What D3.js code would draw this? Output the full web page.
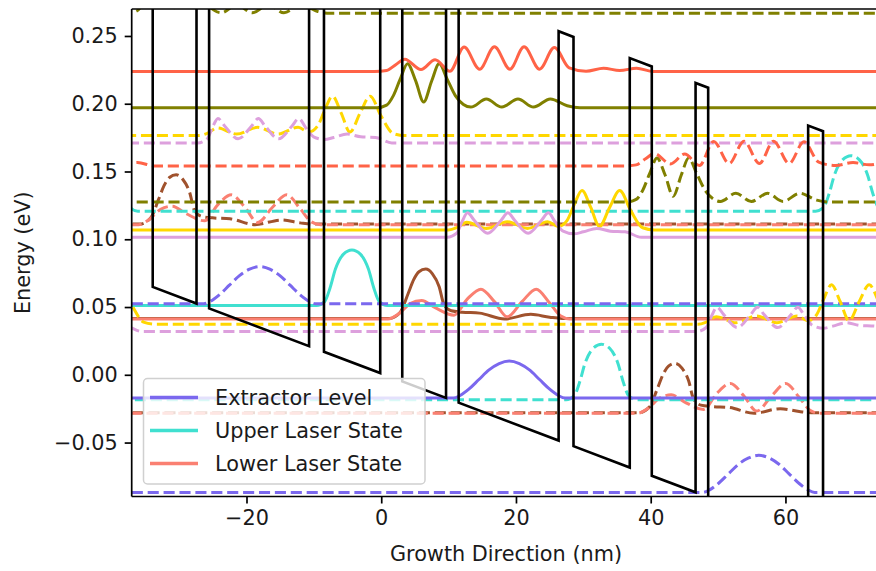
<!DOCTYPE html>
<html>
<head>
<meta charset="utf-8">
<script src="https://cdn.jsdelivr.net/npm/d3@7"></script>
<style>
  body { margin: 0; background: #fff; }
  text { font-family: "DejaVu Sans", sans-serif; fill: #1a1a1a; }
</style>
</head>
<body>
<svg width="876" height="571"></svg>
<script>
var width = 876;
var height = 571;

// one cascade period (nm) and the energy drop across it under bias (eV)
var period = 37.04;
var periodDrop = 0.0696;

var xTicks = [-20, 0, 20, 40, 60];
var yTicks = [-0.05, 0.00, 0.05, 0.10, 0.15, 0.20, 0.25];

// conduction band edge, [nm, eV] at every interface
var bandProfile = [
  [-37.04, 0.3726], [-33.92, 0.3668], [-33.92, 0.0648], [-27.42, 0.0526], [-27.42, 0.3546],
  [-25.55, 0.3510], [-25.55, 0.0490], [-10.71, 0.0211], [-10.71, 0.3231], [-8.50, 0.3190],
  [-8.50, 0.0170], [-0.15, 0.0013], [-0.15, 0.3033], [3.12, 0.2971], [3.12, -0.0049],
  [9.62, -0.0171], [9.62, 0.2849], [11.49, 0.2814], [11.49, -0.0206], [26.33, -0.0485],
  [26.33, 0.2535], [28.54, 0.2493], [28.54, -0.0527], [36.89, -0.0684], [36.89, 0.2337],
  [40.16, 0.2275], [40.16, -0.0745], [46.66, -0.0867], [46.66, 0.2153], [48.53, 0.2118],
  [48.53, -0.0902], [63.37, -0.1181], [63.37, 0.1839], [65.58, 0.1797], [65.58, -0.1223],
  [73.93, -0.1380], [73.93, 0.1640], [74.08, 0.1637]
];

// states of the central period: [nm, eV] of energy level + |psi|^2 offset
var extractorLevel = [[10.7, -0.0172], [11.7, -0.0153], [13.0, -0.0106], [14.5, -0.0035], [16.0, 0.0036],
  [17.5, 0.0083], [19.0, 0.0102], [20.5, 0.0083], [22.0, 0.0036], [23.5, -0.0035], [25.0, -0.0106],
  [26.3, -0.0153], [27.3, -0.0172]];

var upperLaserState = [[-9.6, 0.0511], [-8.4, 0.0540], [-7.6, 0.0640], [-6.8, 0.0780], [-5.6, 0.0890],
  [-4.35, 0.0921], [-3.1, 0.0890], [-1.9, 0.0780], [-1.1, 0.0640], [-0.3, 0.0540], [0.9, 0.0511]];

var lowerLaserState = [[1.0, 0.0412], [2.6, 0.0450], [4.3, 0.0525], [6.0, 0.0548], [8.0, 0.0495],
  [10.8, 0.0440], [12.8, 0.0560], [14.8, 0.0632], [16.8, 0.0540], [18.7, 0.0428], [20.9, 0.0540],
  [23.0, 0.0632], [25.0, 0.0530], [26.6, 0.0435], [28.0, 0.0412]];

var brownState = [[1.2, 0.0416], [2.8, 0.0460], [4.0, 0.0600], [4.8, 0.0700], [5.6, 0.0760], [6.6, 0.0780],
  [7.6, 0.0745], [8.6, 0.0650], [9.3, 0.0520], [10.4, 0.0472], [12.0, 0.0462], [14.6, 0.0455],
  [18.3, 0.0412], [22.2, 0.0446], [25.0, 0.0425], [26.8, 0.0416]];

var goldState = [[10.0, 0.1069], [11.2, 0.1085], [12.7, 0.1125], [15.6, 0.1080], [18.7, 0.1130],
  [21.7, 0.1080], [24.7, 0.1130], [26.3, 0.1095], [27.6, 0.1140], [28.6, 0.1250], [29.8, 0.1360],
  [31.1, 0.1235], [32.4, 0.1095], [33.9, 0.1235], [35.4, 0.1360], [37.0, 0.1215], [38.8, 0.1085],
  [40.5, 0.1069]];

var plumState = [[9.8, 0.1015], [11.2, 0.1045], [12.0, 0.1130], [12.8, 0.1195], [13.8, 0.1140],
  [15.8, 0.1045], [17.8, 0.1140], [18.8, 0.1195], [19.8, 0.1140], [21.8, 0.1045], [23.8, 0.1140],
  [24.8, 0.1195], [25.8, 0.1130], [27.0, 0.1060], [28.6, 0.1040], [30.0, 0.1055], [32.0, 0.1080],
  [34.0, 0.1060], [36.2, 0.1055], [38.6, 0.1015]];

var oliveState = [[-0.6, 0.1971], [0.8, 0.1990], [1.8, 0.2060], [2.8, 0.2180], [3.9, 0.2295],
  [5.1, 0.2170], [6.3, 0.2013], [7.5, 0.2170], [8.6, 0.2295], [9.8, 0.2180], [11.0, 0.2060],
  [12.2, 0.1995], [13.3, 0.1975], [15.6, 0.2035], [17.9, 0.1975], [20.3, 0.2035], [22.6, 0.1975],
  [25.1, 0.2035], [27.6, 0.1985], [29.5, 0.1971]];

var tomatoState = [[-1.0, 0.2237], [0.8, 0.2245], [2.2, 0.2290], [3.5, 0.2328], [5.9, 0.2252],
  [8.0, 0.2325], [10.2, 0.2240], [12.3, 0.2418], [14.6, 0.2255], [16.8, 0.2420], [19.1, 0.2255],
  [21.2, 0.2420], [23.5, 0.2255], [25.7, 0.2415], [27.9, 0.2265], [30.4, 0.2240], [33.0, 0.2262],
  [35.4, 0.2245], [37.9, 0.2262], [40.4, 0.2237]];

var stateData = [brownState, lowerLaserState, upperLaserState, extractorLevel,
  goldState, plumState, oliveState, tomatoState];
var stateColors = ['sienna', 'salmon', 'turquoise', 'mediumslateblue',
  'gold', 'plum', 'olive', 'tomato'];

var legendLabels = ['Extractor Level', 'Upper Laser State', 'Lower Laser State'];
var legendColors = ['mediumslateblue', 'turquoise', 'salmon'];

var plotLeft = 131.7, plotRight = 880.3, plotTop = 9, plotBottom = 496.5;

var xScale = d3.scaleLinear()
  .domain([-period, 2 * period])
  .range([plotLeft, plotRight]);

var yScale = d3.scaleLinear()
  .domain([-0.0898, 0.2699])
  .range([plotBottom, plotTop]);

var svg = d3.select('svg')
  .attr('width', width)
  .attr('height', height);

svg.append('clipPath')
    .attr('id', 'plot-clip')
  .append('rect')
    .attr('x', plotLeft)
    .attr('y', plotTop)
    .attr('width', plotRight - plotLeft)
    .attr('height', plotBottom - plotTop);

var plot = svg.append('g').attr('clip-path', 'url(#plot-clip)');

var line = d3.line()
  .x(d => xScale(d[0]))
  .y(d => yScale(d[1]))
  .curve(d3.curveMonotoneX);

// copy k of a state sits one period over and one drop lower; it wraps round the 3-period window
function shiftedState(points, k) {
  var out = [];
  [-1, 0, 1].forEach(m => {
    points.forEach(p => out.push([p[0] + k * period + m * 3 * period, p[1] - k * periodDrop]));
  });
  out.sort((a, b) => a[0] - b[0]);
  var base = points[0][1] - k * periodDrop;
  out.unshift([-300, base]);
  out.push([400, base]);
  return out;
}

stateData.forEach((points, i) => {
  [-1, 0, 1].forEach(k => {
    plot.append('path')
      .attr('d', line(shiftedState(points, k)))
      .attr('fill', 'none')
      .attr('stroke', stateColors[i])
      .attr('stroke-width', 3)
      .attr('stroke-dasharray', k === 0 ? null : '11.1,4.8');
  });
});

plot.append('path')
  .attr('d', d3.line().x(d => xScale(d[0])).y(d => yScale(d[1]))(bandProfile))
  .attr('fill', 'none')
  .attr('stroke', 'black')
  .attr('stroke-width', 2.6)
  .attr('stroke-linejoin', 'miter');

// axes
var xAxis = svg.append('g')
  .attr('transform', 'translate(0,' + plotBottom + ')')
  .call(d3.axisBottom(xScale).tickValues(xTicks).tickSize(7).tickPadding(7).tickFormat(d3.format('d')));

var yAxis = svg.append('g')
  .attr('transform', 'translate(' + plotLeft + ',0)')
  .call(d3.axisLeft(yScale).tickValues(yTicks).tickSize(7).tickPadding(7).tickFormat(d3.format('.2f')));

[xAxis, yAxis].forEach(ax => {
  ax.select('.domain').remove();
  ax.selectAll('line').attr('stroke', 'black').attr('stroke-width', 1.7);
  ax.selectAll('text').attr('font-size', 20.8).attr('font-family', 'DejaVu Sans').attr('fill', '#1a1a1a');
});

svg.append('line')
  .attr('x1', plotLeft).attr('x2', plotLeft)
  .attr('y1', plotTop).attr('y2', plotBottom)
  .attr('stroke', 'black').attr('stroke-width', 1.7);
svg.append('line')
  .attr('x1', plotLeft).attr('x2', plotRight)
  .attr('y1', plotBottom).attr('y2', plotBottom)
  .attr('stroke', 'black').attr('stroke-width', 1.7);
svg.append('line')
  .attr('x1', plotLeft).attr('x2', plotRight)
  .attr('y1', plotTop).attr('y2', plotTop)
  .attr('stroke', 'black').attr('stroke-width', 1.7);

svg.append('text')
  .attr('x', (plotLeft + plotRight) / 2)
  .attr('y', 560.5)
  .attr('text-anchor', 'middle')
  .attr('font-size', 20.8)
  .text('Growth Direction (nm)');

svg.append('text')
  .attr('transform', 'translate(30,' + (plotTop + plotBottom) / 2 + ') rotate(-90)')
  .attr('text-anchor', 'middle')
  .attr('font-size', 20.8)
  .text('Energy (eV)');

// legend
var legend = svg.append('g');

legend.append('rect')
  .attr('x', 143.5)
  .attr('y', 378.5)
  .attr('width', 281.5)
  .attr('height', 105.5)
  .attr('rx', 4)
  .attr('fill', 'white')
  .attr('fill-opacity', 0.8)
  .attr('stroke', '#d0d0d0')
  .attr('stroke-width', 1.5);

var items = legend.selectAll('.item')
  .data(legendLabels)
  .enter()
  .append('g')
    .classed('item', true)
    .attr('transform', (d, i) => 'translate(0,' + (397.5 + i * 33) + ')');

items.append('line')
  .attr('x1', 150)
  .attr('x2', 198)
  .attr('stroke', (d, i) => legendColors[i])
  .attr('stroke-width', 3.5);

items.append('text')
  .attr('x', 215)
  .attr('y', 7.6)
  .attr('font-size', 20.8)
  .text(d => d);
</script>
</body>
</html>
